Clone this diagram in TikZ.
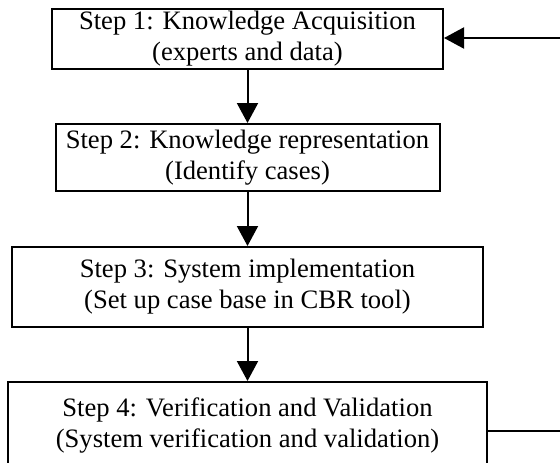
\documentclass[tikz,border=0pt]{standalone}
\usepackage{fontspec}
\setmainfont{Liberation Serif}
\usetikzlibrary{arrows.meta}
\usetikzlibrary{calc}

\begin{document}
\begin{tikzpicture}[x=1pt,y=-1pt,
        stepbox/.style={draw, line width=2pt, inner sep=0pt, align=center,
            font=\fontsize{26.6}{31}\selectfont},
        flowline/.style={line width=2pt, -{Triangle[length=20pt,width=21pt]}}]
        \newcommand{\figstepxcent}{247.5}
        \newcommand{\figloopx}{563}
        \newcommand{\figlooptopy}{38}
        \newcommand{\figloopboty}{431}
        \useasboundingbox (0,0) rectangle (560,463);
        \clip (0,0) rectangle (560,463);
        \node[stepbox, minimum width=391pt, minimum height=60pt] (stepone) at (\figstepxcent,39) {Step 1: Knowledge Acquisition\\(experts and data)};
        \node[stepbox, minimum width=384pt, minimum height=67pt] (steptwo) at (\figstepxcent,157.5) {Step 2: Knowledge representation\\(Identify cases)};
        \node[stepbox, minimum width=471pt, minimum height=80pt] (stepthree) at (\figstepxcent,287) {Step 3: System implementation\\(Set up case base in CBR tool)};
        \node[stepbox, minimum width=479pt, minimum height=88pt] (stepfour) at (\figstepxcent,426) {Step 4: Verification and Validation\\(System verification and validation)};
        \coordinate (looptop) at (\figloopx,\figlooptopy);
        \coordinate (loopbot) at (\figloopx,\figloopboty);
        \draw[flowline] (stepone.south) -- (steptwo.north);
        \draw[flowline] (steptwo.south) -- (stepthree.north);
        \draw[flowline] (stepthree.south) -- (stepfour.north);
        \draw[flowline] (stepfour.east |- loopbot) -- (loopbot) -- (looptop) -- (stepone.east |- looptop);
\end{tikzpicture}
\end{document}
